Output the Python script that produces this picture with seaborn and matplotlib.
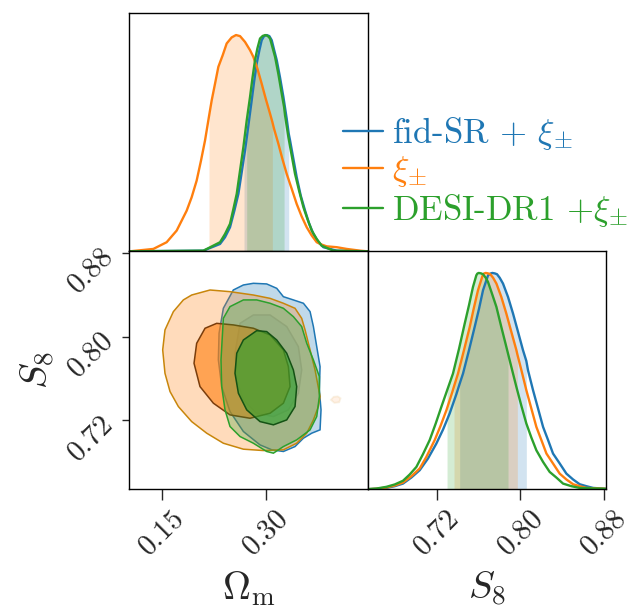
import matplotlib
matplotlib.use("Agg")
import matplotlib.pyplot as plt
import numpy as np
import seaborn as sns

# colours of the three chains
c_blue = "#1f77b4"
c_orange = "#ff7f0e"
c_green = "#2ca02c"

labels = [r"fid-SR + $\xi_{\pm}$", r"$\xi_{\pm}$", r"DESI-DR1 +$\xi_{\pm}$"]

# ---- 1D marginal of Omega_m, (value, density normalised to peak 1) ----
om_blue = [(0.1042, 0.0), (0.2101, 0.003), (0.2341, 0.034), (0.2413, 0.065), (0.2485, 0.111),
           (0.2548, 0.188), (0.2606, 0.266), (0.2654, 0.366), (0.2687, 0.436), (0.2702, 0.466),
           (0.2750, 0.582), (0.2798, 0.698), (0.2832, 0.783), (0.2870, 0.868), (0.2909, 0.930),
           (0.2942, 0.976), (0.2976, 0.995), (0.3014, 1.0), (0.3053, 0.995), (0.3087, 0.976),
           (0.3120, 0.933), (0.3159, 0.884), (0.3207, 0.803), (0.3255, 0.714), (0.3303, 0.613),
           (0.3332, 0.544), (0.3351, 0.513), (0.3399, 0.428), (0.3447, 0.343), (0.3505, 0.258),
           (0.3568, 0.188), (0.3625, 0.130), (0.3688, 0.080), (0.3760, 0.042), (0.3832, 0.019),
           (0.4025, 0.003), (0.447, 0.0)]
om_orange = [(0.1042, 0.0), (0.1379, 0.011), (0.1571, 0.042), (0.1716, 0.096), (0.1860, 0.188),
             (0.1932, 0.250), (0.2004, 0.327), (0.2067, 0.420), (0.2125, 0.513), (0.2182, 0.624),
             (0.2221, 0.698), (0.2269, 0.775), (0.2317, 0.853), (0.2380, 0.907), (0.2437, 0.961),
             (0.2509, 0.989), (0.2572, 1.0), (0.2630, 0.995), (0.2702, 0.968), (0.2774, 0.930),
             (0.2822, 0.899), (0.2880, 0.845), (0.2942, 0.775), (0.3000, 0.706), (0.3063, 0.636),
             (0.3096, 0.598), (0.3120, 0.567), (0.3183, 0.497), (0.3240, 0.428), (0.3303, 0.358),
             (0.3375, 0.289), (0.3447, 0.219), (0.3519, 0.161), (0.3592, 0.111), (0.3664, 0.073),
             (0.3736, 0.042), (0.3808, 0.031), (0.3880, 0.023), (0.4025, 0.019), (0.4169, 0.011),
             (0.4361, 0.003), (0.447, 0.0)]
om_green = [(0.1042, 0.0), (0.2101, 0.003), (0.2341, 0.042), (0.2413, 0.080), (0.2485, 0.127),
            (0.2534, 0.196), (0.2582, 0.266), (0.2630, 0.374), (0.2678, 0.482), (0.2726, 0.605),
            (0.2774, 0.714), (0.2808, 0.799), (0.2846, 0.884), (0.2880, 0.938), (0.2918, 0.984),
            (0.2957, 0.996), (0.2995, 1.0), (0.3029, 0.996), (0.3063, 0.984), (0.3096, 0.945),
            (0.3135, 0.899), (0.3183, 0.819), (0.3231, 0.729), (0.3265, 0.667), (0.3279, 0.629),
            (0.3327, 0.528), (0.3375, 0.443), (0.3423, 0.358), (0.3481, 0.281), (0.3544, 0.204),
            (0.3601, 0.150), (0.3664, 0.096), (0.3736, 0.057), (0.3808, 0.026), (0.3976, 0.003),
            (0.447, 0.0)]
om_blue_ci = [0.2687, 0.3332]
om_orange_ci = [0.2182, 0.3096]
om_green_ci = [0.2726, 0.3265]

# ---- 1D marginal of S8 ----
s8_blue = [(0.6534, 0.0), (0.6623, 0.002), (0.6719, 0.006), (0.6799, 0.014), (0.6878, 0.026),
           (0.6958, 0.054), (0.7038, 0.088), (0.7117, 0.142), (0.7197, 0.211), (0.7261, 0.276),
           (0.7324, 0.350), (0.7388, 0.439), (0.7420, 0.488), (0.7452, 0.535), (0.7509, 0.643),
           (0.7563, 0.750), (0.7605, 0.835), (0.7643, 0.920), (0.7691, 0.989), (0.7713, 0.997),
           (0.7732, 1.0), (0.7755, 0.998), (0.7777, 0.994), (0.7802, 0.978), (0.7834, 0.951),
           (0.7882, 0.889), (0.7930, 0.812), (0.7978, 0.727), (0.8025, 0.643), (0.8057, 0.593),
           (0.8073, 0.550), (0.8121, 0.458), (0.8169, 0.373), (0.8217, 0.288), (0.8265, 0.227),
           (0.8312, 0.165), (0.8376, 0.119), (0.8440, 0.072), (0.8504, 0.045), (0.8567, 0.023),
           (0.8631, 0.014), (0.8695, 0.006), (0.8813, 0.002)]
s8_orange = [(0.6534, 0.0), (0.6623, 0.002), (0.6719, 0.008), (0.6799, 0.017), (0.6878, 0.031),
             (0.6958, 0.060), (0.7038, 0.096), (0.7101, 0.149), (0.7181, 0.227), (0.7238, 0.294),
             (0.7293, 0.365), (0.7350, 0.450), (0.7366, 0.476), (0.7404, 0.535), (0.7461, 0.643),
             (0.7516, 0.750), (0.7554, 0.835), (0.7595, 0.920), (0.7637, 0.985), (0.7650, 0.997),
             (0.7669, 1.0), (0.7691, 0.998), (0.7713, 0.994), (0.7739, 0.978), (0.7771, 0.951),
             (0.7818, 0.889), (0.7866, 0.812), (0.7914, 0.727), (0.7962, 0.643), (0.7971, 0.624),
             (0.8010, 0.550), (0.8057, 0.458), (0.8105, 0.373), (0.8153, 0.288), (0.8201, 0.227),
             (0.8249, 0.165), (0.8312, 0.119), (0.8376, 0.072), (0.8440, 0.045), (0.8504, 0.023),
             (0.8567, 0.014), (0.8631, 0.006), (0.8813, 0.002)]
s8_green = [(0.6534, 0.0), (0.6623, 0.003), (0.6719, 0.011), (0.6799, 0.022), (0.6878, 0.039),
            (0.6942, 0.068), (0.7006, 0.103), (0.7069, 0.162), (0.7133, 0.227), (0.7191, 0.304),
            (0.7245, 0.381), (0.7299, 0.456), (0.7356, 0.535), (0.7414, 0.650), (0.7468, 0.766),
            (0.7509, 0.851), (0.7547, 0.935), (0.7579, 0.989), (0.7589, 0.997), (0.7602, 1.0),
            (0.7624, 0.998), (0.7643, 0.994), (0.7669, 0.978), (0.7691, 0.958), (0.7729, 0.904),
            (0.7771, 0.843), (0.7818, 0.750), (0.7866, 0.658), (0.7882, 0.627), (0.7914, 0.565),
            (0.7962, 0.473), (0.8010, 0.385), (0.8057, 0.304), (0.8105, 0.239), (0.8153, 0.180),
            (0.8217, 0.126), (0.8280, 0.080), (0.8344, 0.054), (0.8408, 0.026), (0.8488, 0.014),
            (0.8567, 0.006), (0.8813, 0.002)]
s8_blue_ci = [0.7420, 0.8057]
s8_orange_ci = [0.7366, 0.7971]
s8_green_ci = [0.7299, 0.7882]

# ---- 2D contours (Omega_m, S8), 95% and 68% ----
blue_95_om = [0.2533, 0.2678, 0.2822, 0.3014, 0.3159, 0.3255, 0.3399, 0.3544, 0.3640, 0.3688, 0.3736,
              0.3784, 0.3774, 0.3798, 0.3784, 0.3664, 0.3544, 0.3423, 0.3255, 0.3087, 0.2918, 0.2678,
              0.2485, 0.2365, 0.2317, 0.2327, 0.2389]
blue_95_s8 = [0.8446, 0.8494, 0.8510, 0.8504, 0.8462, 0.8382, 0.8351, 0.8319, 0.8239, 0.8096, 0.7904,
              0.7713, 0.7490, 0.7299, 0.7108, 0.7076, 0.7028, 0.6948, 0.6901, 0.6917, 0.6964, 0.7092,
              0.7283, 0.7522, 0.7777, 0.8032, 0.8271]
blue_68_om = [0.2630, 0.2822, 0.3063, 0.3303, 0.3471, 0.3519, 0.3471, 0.3327, 0.3111, 0.2870, 0.2678,
              0.2582, 0.2557]
blue_68_s8 = [0.8127, 0.8207, 0.8207, 0.8096, 0.7904, 0.7681, 0.7458, 0.7299, 0.7235, 0.7267, 0.7395,
              0.7586, 0.7841]
orange_95_om = [0.1514, 0.1547, 0.1668, 0.1812, 0.1932, 0.2197, 0.2485, 0.2822, 0.3063, 0.3255, 0.3423,
                0.3519, 0.3568, 0.3640, 0.3712, 0.3784, 0.3760, 0.3688, 0.3592, 0.3447, 0.3255, 0.2966,
                0.2678, 0.2389, 0.2149, 0.1932, 0.1740, 0.1620, 0.1547]
orange_95_s8 = [0.7873, 0.8064, 0.8239, 0.8351, 0.8398, 0.8446, 0.8430, 0.8398, 0.8366, 0.8319, 0.8271,
                0.8175, 0.8064, 0.7873, 0.7681, 0.7426, 0.7331, 0.7203, 0.7076, 0.6980, 0.6917, 0.6910,
                0.6923, 0.6980, 0.7076, 0.7187, 0.7331, 0.7474, 0.7649]
orange_island_om = [0.3940, 0.3980, 0.4040, 0.4080, 0.4060, 0.3990]
orange_island_s8 = [0.7395, 0.7424, 0.7428, 0.7410, 0.7372, 0.7366]
orange_68_om = [0.1966, 0.2004, 0.2125, 0.2293, 0.2533, 0.2822, 0.3063, 0.3255, 0.3327, 0.3351, 0.3255,
                0.3063, 0.2774, 0.2485, 0.2245, 0.2052]
orange_68_s8 = [0.7745, 0.7936, 0.8080, 0.8127, 0.8112, 0.8080, 0.8016, 0.7873, 0.7713, 0.7522, 0.7363,
                0.7267, 0.7219, 0.7251, 0.7363, 0.7522]
green_95_om = [0.2389, 0.2485, 0.2678, 0.2870, 0.3063, 0.3255, 0.3399, 0.3519, 0.3592, 0.3688, 0.3774,
               0.3774, 0.3736, 0.3640, 0.3447, 0.3255, 0.3111, 0.3014, 0.2822, 0.2630, 0.2485, 0.2413,
               0.2365, 0.2355]
green_95_s8 = [0.8175, 0.8287, 0.8351, 0.8351, 0.8319, 0.8271, 0.8191, 0.8096, 0.7936, 0.7777, 0.7618,
               0.7426, 0.7235, 0.7108, 0.7012, 0.6948, 0.6885, 0.6901, 0.6980, 0.7044, 0.7140, 0.7299,
               0.7522, 0.7777]
green_68_om = [0.2582, 0.2678, 0.2870, 0.3014, 0.3159, 0.3303, 0.3399, 0.3447, 0.3423, 0.3303, 0.3111,
               0.2918, 0.2726, 0.2606, 0.2557]
green_68_s8 = [0.7841, 0.7968, 0.8057, 0.8048, 0.7968, 0.7841, 0.7681, 0.7522, 0.7331, 0.7203, 0.7156,
               0.7187, 0.7299, 0.7458, 0.7649]

om_lim = (0.1035, 0.447)
s8_lim = (0.654, 0.8816)
om_ticks = [0.15, 0.30]
s8_ticks = [0.72, 0.80, 0.88]

sns.set_style("ticks")
plt.rcParams["font.family"] = "serif"
plt.rcParams["font.serif"] = ["cmr10", "DejaVu Serif"]
plt.rcParams["mathtext.fontset"] = "cm"
plt.rcParams["axes.formatter.use_mathtext"] = True
plt.rcParams["axes.linewidth"] = 1.0
plt.rcParams["axes.edgecolor"] = "black"

fig = plt.figure(figsize=(6.41, 6.10), dpi=100)
gs = fig.add_gridspec(2, 2, left=0.202, right=0.945, bottom=0.198, top=0.978, hspace=0, wspace=0)
ax_om = fig.add_subplot(gs[0, 0])
ax_2d = fig.add_subplot(gs[1, 0])
ax_s8 = fig.add_subplot(gs[1, 1])

# 1D panels
for ax, curves, cis in [
    (ax_om, [om_blue, om_orange, om_green], [om_blue_ci, om_orange_ci, om_green_ci]),
    (ax_s8, [s8_blue, s8_orange, s8_green], [s8_blue_ci, s8_orange_ci, s8_green_ci]),
]:
    for pts, ci, c, lab in zip(curves, cis, [c_blue, c_orange, c_green], labels):
        pts = np.array(sorted(pts))
        x, y = pts[:, 0], pts[:, 1]
        sns.lineplot(x=x, y=y, ax=ax, color=c, lw=1.7, label=lab if ax is ax_om else None)
        mask = (x >= ci[0]) & (x <= ci[1])
        ax.fill_between(x, y, where=mask, color=c, alpha=0.2, lw=0)
    ax.set_ylim(0, 1.1)
    ax.set_yticks([])
    ax.set_ylabel("")
    if ax.get_legend() is not None:
        ax.get_legend().remove()

ax_om.set_xlim(om_lim)
ax_om.set_xticks([])
ax_s8.set_xlim(s8_lim)

# 2D panel: (95% poly, 68% poly, colour, 95% edge, 68% edge, 68% fill alpha)
contours = [
    (blue_95_om, blue_95_s8, blue_68_om, blue_68_s8, c_blue, c_blue, "#9fb8cc", 0.12),
    (orange_95_om, orange_95_s8, orange_68_om, orange_68_s8, c_orange, "#c8860b", "#7a3d0c", 0.6),
    (green_95_om, green_95_s8, green_68_om, green_68_s8, c_green, c_green, "#145214", 0.6),
]
z = 2
for o95, s95, o68, s68, c, e95, e68, a68 in contours:
    ax_2d.fill(o95, s95, facecolor=c, alpha=0.28, edgecolor="none", zorder=z)
    ax_2d.fill(o95, s95, facecolor="none", edgecolor=e95, lw=1.1, zorder=z + 0.5)
    ax_2d.fill(o68, s68, facecolor=c, alpha=a68, edgecolor="none", zorder=z + 1)
    ax_2d.fill(o68, s68, facecolor="none", edgecolor=e68, lw=1.1, zorder=z + 1.5)
    if c == c_orange:
        ax_2d.fill(orange_island_om, orange_island_s8, facecolor=c, alpha=0.1,
                   edgecolor=e95, lw=1.3, zorder=z + 0.5)
    z += 2

ax_2d.set_xlim(om_lim)
ax_2d.set_ylim(s8_lim)

ax_2d.set_xticks(om_ticks)
ax_2d.set_xticklabels(["0.15", "0.30"])
ax_2d.set_yticks(s8_ticks)
ax_2d.set_yticklabels(["0.72", "0.80", "0.88"])
ax_s8.set_xticks(s8_ticks)
ax_s8.set_xticklabels(["0.72", "0.80", "0.88"])

for ax in [ax_2d, ax_s8]:
    ax.tick_params(axis="x", direction="out", length=8, width=1, labelsize=21, labelrotation=45, pad=3)
ax_2d.tick_params(axis="y", direction="out", length=5, width=1, labelsize=21, labelrotation=45, pad=3)

ax_2d.set_xlabel(r"$\Omega_{\rm m}$", fontsize=28, labelpad=7)
ax_2d.set_ylabel(r"$S_8$", fontsize=28, labelpad=4)
ax_s8.set_xlabel(r"$S_8$", fontsize=28, labelpad=7)

handles = ax_om.get_lines()
fig.legend(handles, labels, loc="center left", bbox_to_anchor=(343 / 641, 1 - 172 / 610),
           bbox_transform=fig.transFigure, frameon=False, fontsize=25, borderpad=0, borderaxespad=0,
           handlelength=1.15, handletextpad=0.25, labelspacing=0.08, labelcolor="linecolor")

fig.savefig("out.png", dpi=100)
